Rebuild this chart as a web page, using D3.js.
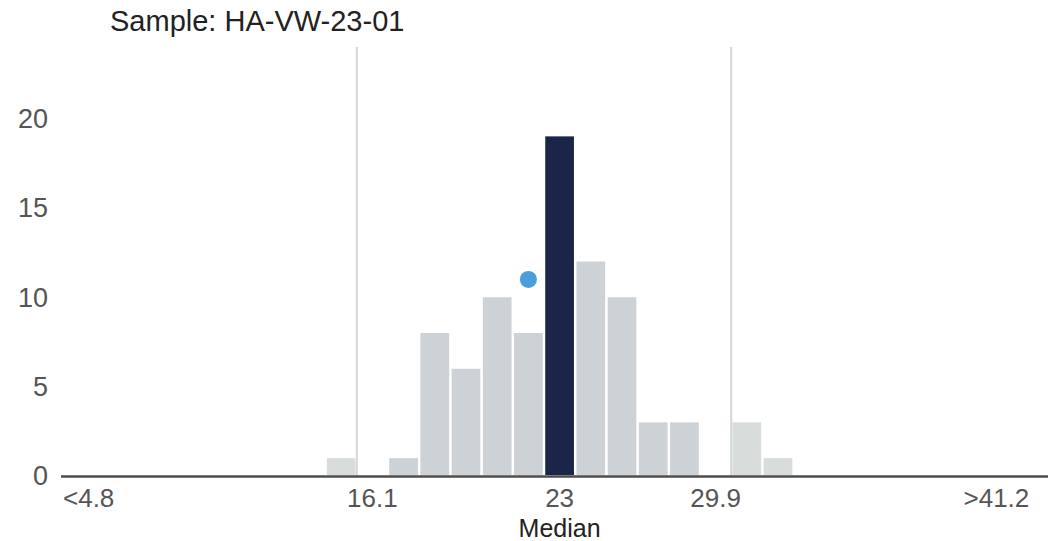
<!DOCTYPE html>
<html>
<head>
<meta charset="utf-8">
<script src="https://cdn.jsdelivr.net/npm/d3@7"></script>
<style>
    body { margin: 0; background: #fff; }
    svg { display: block; font-family: 'Liberation Sans', Arial, sans-serif; }
    .ylab { font-size: 27px; fill: #555; }
    .xlab { font-size: 26px; fill: #555; }
</style>
</head>
<body>
<div id="chart"></div>
<script>
// histogram bins: first and last are the overflow bins
let counts = [0, 0, 0, 0, 0, 0, 0, 0,
              1, 0, 1, 8, 6, 10, 8, 19, 12, 10, 3, 3, 0, 3, 1,
              0, 0, 0, 0, 0, 0, 0];
let tickBins = [0, 9, 15, 20, 29];
let tickLabels = ["<4.8", "16.1", "23", "29.9", ">41.2"];
let yTicks = [0, 5, 10, 15, 20];
let limitBins = [9, 20];      // first / last bin inside the limits
let sampleBin = 15;           // bin of this sample
let meanBin = 14, meanValue = 11;
let title = "Sample: HA-VW-23-01";
let xTitle = "Median";

let width = 1048, height = 541;

let svg = d3.select("#chart").append("svg")
    .attr("width", width)
    .attr("height", height);

let x = d3.scaleBand()
    .domain(d3.range(counts.length))
    .range([76, 1012])
    .paddingInner(0.08)
    .paddingOuter(0.04);

let y = d3.scaleLinear()
    .domain([0, 24])
    .range([476, 47]);

let gap = x.step() - x.bandwidth();

// limit lines
let limitX = [x(limitBins[0]) - gap / 2, x(limitBins[1]) + x.bandwidth() + gap / 2];
svg.selectAll("line.limit")
    .data(limitX)
    .enter()
    .append("line")
    .attr("class", "limit")
    .attr("x1", d => d).attr("x2", d => d)
    .attr("y1", y(24)).attr("y2", y(0))
    .style("stroke", "#d3d6db")
    .style("stroke-width", 2);

// bars
svg.selectAll("rect.bar")
    .data(counts)
    .enter()
    .append("rect")
    .attr("class", "bar")
    .attr("x", (d, i) => x(i))
    .attr("y", d => y(d))
    .attr("width", x.bandwidth())
    .attr("height", d => Math.max(0, y(0) - y(d) - 1))
    .style("fill", (d, i) => {
        if (i === sampleBin) return "#1a2548";
        if (i < limitBins[0] || i > limitBins[1]) return "#d8dcda";
        return "#cdd2d7";
    });

// axis line
svg.append("line")
    .attr("x1", 61).attr("x2", width)
    .attr("y1", y(0) + 0.5).attr("y2", y(0) + 0.5)
    .style("stroke", "#4d4d4d")
    .style("stroke-width", 2.5);

// mean dot
svg.append("circle")
    .attr("cx", x(meanBin) + x.bandwidth() / 2)
    .attr("cy", y(meanValue))
    .attr("r", 8.5)
    .style("fill", "#4a9edb");

// y labels
svg.selectAll("text.ylab")
    .data(yTicks)
    .enter()
    .append("text")
    .attr("class", "ylab")
    .attr("x", 48)
    .attr("y", d => y(d))
    .attr("dy", "0.35em")
    .style("text-anchor", "end")
    .text(d => d);

// x labels
svg.selectAll("text.xlab")
    .data(tickBins)
    .enter()
    .append("text")
    .attr("class", "xlab")
    .attr("x", (d, i) => i === 0 ? 63 : x(d) + x.bandwidth() / 2)
    .attr("y", 507)
    .style("text-anchor", (d, i) => i === 0 ? "start" : "middle")
    .text((d, i) => tickLabels[i]);

svg.append("text")
    .attr("x", x(sampleBin) + x.bandwidth() / 2)
    .attr("y", 537)
    .style("text-anchor", "middle")
    .style("font-size", "25px")
    .style("fill", "#222")
    .text(xTitle);

svg.append("text")
    .attr("x", 110)
    .attr("y", 31)
    .style("font-size", "29px")
    .style("fill", "#222")
    .text(title);
</script>
</body>
</html>
